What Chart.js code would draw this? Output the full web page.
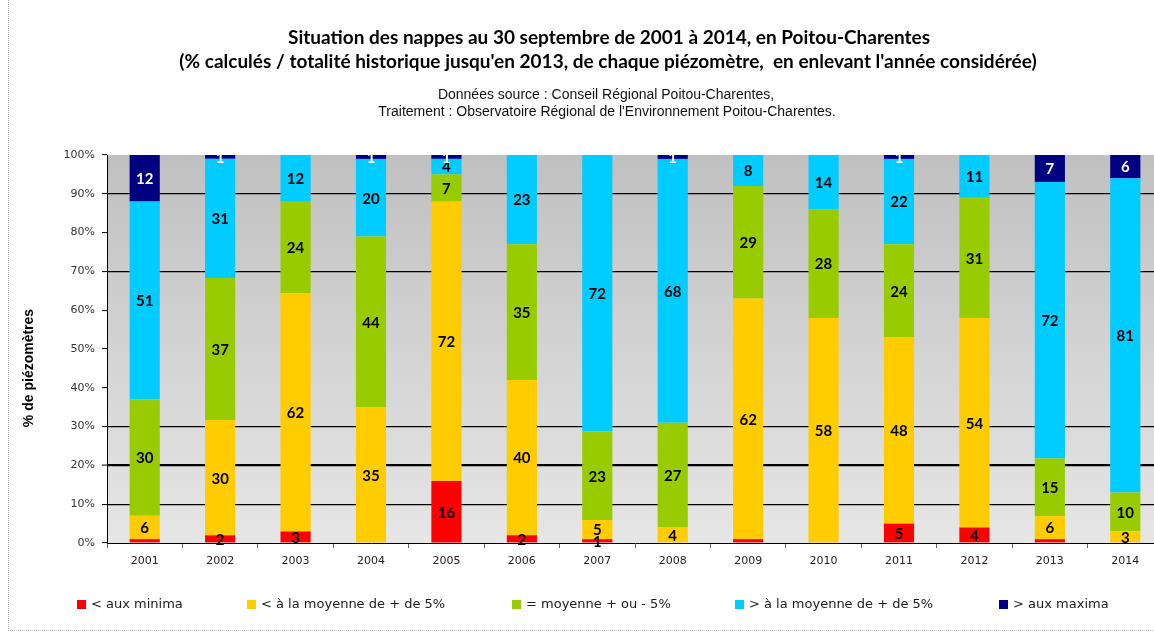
<!DOCTYPE html>
<html>
<head>
<meta charset="utf-8">
<script src="https://cdn.jsdelivr.net/npm/chart.js@4.4.1/dist/chart.umd.min.js"></script>
<style>
  html, body { margin: 0; padding: 0; background: #fff; overflow: hidden; }
  #wrap { width: 1190px; height: 635px; position: relative; }
</style>
</head>
<body>
<div id="wrap"><canvas id="c" width="1190" height="635"></canvas></div>
<script>
// ---- data ----
const years = ['2001','2002','2003','2004','2005','2006','2007','2008','2009','2010','2011','2012','2013','2014'];
const minima    = [1, 2, 3, 0, 16, 2, 1, 0, 1, 0, 5, 4, 1, 0];
const belowAvg  = [6, 30, 62, 35, 72, 40, 5, 4, 62, 58, 48, 54, 6, 3];
const nearAvg   = [30, 37, 24, 44, 7, 35, 23, 27, 29, 28, 24, 31, 15, 10];
const aboveAvg  = [51, 31, 12, 20, 4, 23, 72, 68, 8, 14, 22, 11, 72, 81];
const maxima    = [12, 1, 0, 1, 1, 0, 0, 1, 0, 0, 1, 0, 7, 6];
const seriesNames = ['< aux minima', '< à la moyenne de + de 5%', '= moyenne + ou - 5%', '> à la moyenne de + de 5%', '> aux maxima'];
const unlabeledMinimaYears = ['2001', '2009', '2013'];
const titleLines = ['Situation des nappes au 30 septembre de 2001 à 2014, en Poitou-Charentes',
  "(% calculés / totalité historique jusqu'en 2013, de chaque piézomètre,  en enlevant l'année considérée)"];
const subtitleLines = ['Données source : Conseil Régional Poitou-Charentes,',
  "Traitement : Observatoire Régional de l'Environnement Poitou-Charentes."];
const yAxisTitle = '% de piézomètres';

const colors = ['#FF0000', '#FFCC00', '#99CC00', '#00CCFF', '#000080'];
const rawSeries = [minima, belowAvg, nearAvg, aboveAvg, maxima];
const totals = years.map((_, i) => rawSeries.reduce((s, a) => s + a[i], 0));

const datasets = rawSeries.map((arr, k) => ({
  label: seriesNames[k],
  data: arr.map((v, i) => v / totals[i] * 100),
  rawValues: arr,
  backgroundColor: colors[k],
  borderWidth: 0,
  barPercentage: 0.4,
  categoryPercentage: 1.0
}));

const bgPlugin = {
  id: 'bg',
  beforeDraw(chart) {
    const { ctx, chartArea: a } = chart;
    ctx.save();
    ctx.fillStyle = '#fff';
    ctx.fillRect(0, 0, chart.width, chart.height);
    const g = ctx.createLinearGradient(0, a.top, 0, a.bottom);
    g.addColorStop(0, '#c0c0c0');
    g.addColorStop(1, '#e6e6e6');
    ctx.fillStyle = g;
    ctx.fillRect(a.left, a.top, a.right - a.left, a.bottom - a.top);
    // outer frame (left & bottom visible part)
    ctx.strokeStyle = '#b8b8b8';
    ctx.lineWidth = 1;
    ctx.setLineDash([1, 1]);
    ctx.beginPath();
    ctx.moveTo(8.5, 0); ctx.lineTo(8.5, 630.5); ctx.lineTo(chart.width, 630.5);
    ctx.stroke();
    ctx.restore();
  }
};

function fitFont(ctx, text, weight, family, targetW, maxSize) {
  ctx.font = weight + ' 100px ' + family;
  const w = ctx.measureText(text).width;
  return Math.min(maxSize, 100 * targetW / w);
}

const textPlugin = {
  id: 'texts',
  afterDraw(chart) {
    const ctx = chart.ctx;
    ctx.save();
    ctx.fillStyle = '#000';
    ctx.textAlign = 'center';
    ctx.textBaseline = 'middle';
    // titles
    const t1 = fitFont(ctx, titleLines[0], 'bold', 'Lato', 642, 19);
    ctx.font = 'bold ' + t1 + 'px Lato';
    ctx.fillText(titleLines[0], 609, 38);
    const t2 = fitFont(ctx, titleLines[1], 'bold', 'Lato', 871, 19);
    ctx.font = 'bold ' + t2 + 'px Lato';
    ctx.fillText(titleLines[1], 608, 62);
    ctx.fillStyle = '#111';
    const s1 = fitFont(ctx, subtitleLines[0], 'normal', '"Liberation Sans"', 350, 14);
    ctx.font = s1 + 'px "Liberation Sans"';
    ctx.fillText(subtitleLines[0], 606, 95);
    const s2 = fitFont(ctx, subtitleLines[1], 'normal', '"Liberation Sans"', 475, 14);
    ctx.font = s2 + 'px "Liberation Sans"';
    ctx.fillText(subtitleLines[1], 607, 112);
    // y axis title
    ctx.save();
    ctx.translate(29, 368);
    ctx.rotate(-Math.PI / 2);
    ctx.fillStyle = '#000';
    ctx.font = 'bold 14px "Liberation Sans"';
    ctx.fillText(yAxisTitle, 0, 0);
    ctx.restore();
    // legend
    const boxX = [77, 247, 512, 735, 999];
    ctx.textAlign = 'left';
    ctx.font = '13px "DejaVu Sans"';
    chart.data.datasets.forEach((ds, k) => {
      ctx.fillStyle = ds.backgroundColor;
      ctx.fillRect(boxX[k], 600, 9, 9);
      ctx.fillStyle = '#1a1a1a';
      ctx.fillText(ds.label, boxX[k] + 14, 605);
    });
    ctx.restore();
  }
};

const labelPlugin = {
  id: 'barLabels',
  afterDatasetsDraw(chart) {
    const ctx = chart.ctx;
    ctx.save();
    ctx.textAlign = 'center';
    ctx.textBaseline = 'middle';
    ctx.font = 'bold 15px Lato';
    chart.data.datasets.forEach((ds, k) => {
      const meta = chart.getDatasetMeta(k);
      meta.data.forEach((el, i) => {
        const v = ds.rawValues[i];
        if (!v) return;
        if (k === 0 && unlabeledMinimaYears.includes(years[i])) return;
        ctx.fillStyle = k === 4 ? '#fff' : '#000';
        ctx.fillText(String(v), el.x, (el.y + el.base) / 2 + 1);
      });
    });
    ctx.restore();
  }
};

new Chart(document.getElementById('c'), {
  type: 'bar',
  data: { labels: years, datasets },
  options: {
    responsive: false,
    animation: false,
    events: [],
    layout: { padding: { top: 155, left: 0, right: 27, bottom: 0 } },
    plugins: { legend: { display: false }, tooltip: { enabled: false }, title: { display: false } },
    scales: {
      x: {
        stacked: true,
        afterFit(scale) { scale.height = 92; },
        border: { color: '#000', width: 1 },
        grid: { drawOnChartArea: false, offset: true, tickLength: 5, tickColor: '#666', tickWidth: 1 },
        ticks: { color: '#222', font: { family: 'DejaVu Sans', size: 11 }, padding: 7, maxRotation: 0 }
      },
      y: {
        stacked: true,
        min: 0, max: 100,
        afterFit(scale) { scale.width = 107; },
        border: { color: '#000', width: 1 },
        grid: {
          color: c => ([10, 20, 30, 70, 90].includes(c.tick.value) ? '#000' : 'rgba(0,0,0,0)'),
          lineWidth: c => (c.tick.value === 20 ? 2.2 : 1.2),
          tickLength: 5, tickColor: '#000', tickWidth: 1
        },
        ticks: { stepSize: 10, callback: v => v + '%', color: '#333', font: { family: 'DejaVu Sans', size: 11 }, padding: 7 }
      }
    }
  },
  plugins: [bgPlugin, labelPlugin, textPlugin]
});
</script>
</body>
</html>
